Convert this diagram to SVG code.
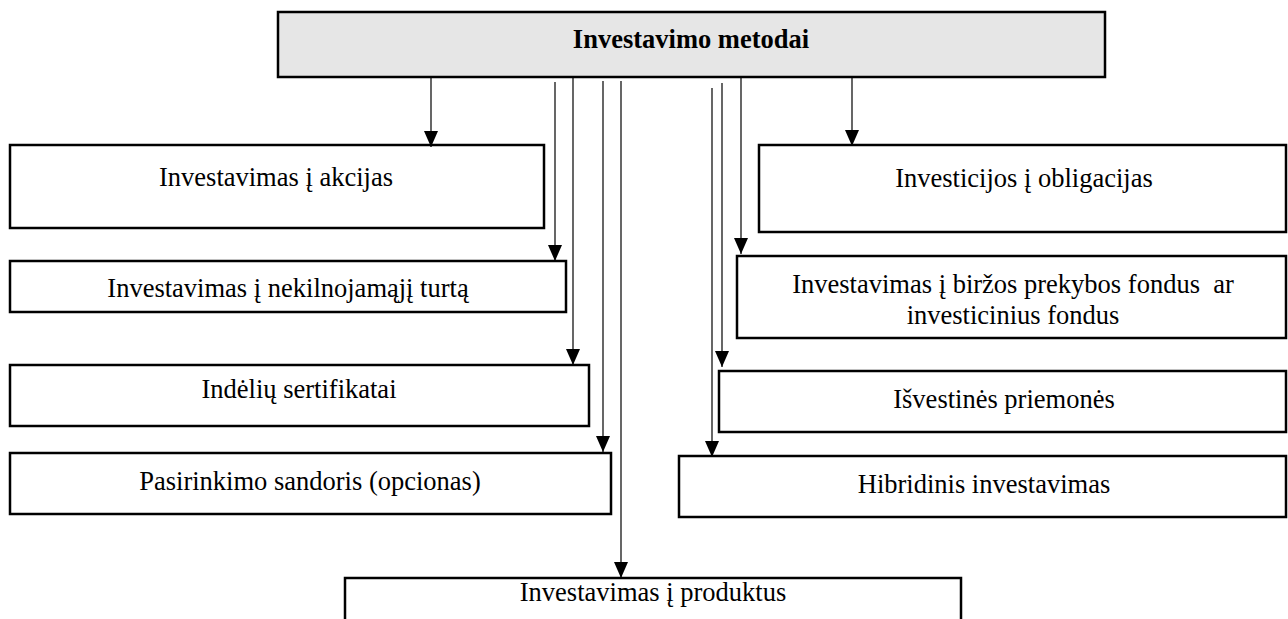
<svg xmlns="http://www.w3.org/2000/svg" width="1288" height="619" viewBox="0 0 1288 619">
  <style>
    .box { fill: #ffffff; stroke: #000000; stroke-width: 2.5; }
    .root { fill: #e6e6e6; stroke: #000000; stroke-width: 2.5; }
    .lbl { font-family: "Liberation Serif", "Times New Roman", "DejaVu Serif", serif; font-size: 26.5px; fill: #000000; text-anchor: middle; }
    .title { font-weight: bold; }
    .wire { stroke: #000000; stroke-width: 1.2; fill: none; marker-end: url(#arrow); }
  </style>
  <defs>
    <!-- filled triangular head, tip at the end of the line -->
    <marker id="arrow" markerUnits="userSpaceOnUse" markerWidth="16" markerHeight="14" viewBox="0 0 16 14" refX="16" refY="7" orient="auto">
      <path d="M0,0 L16,7 L0,14 Z" fill="#000000"/>
    </marker>
  </defs>

  <g id="node-root">
    <rect class="root" x="278" y="12" width="827" height="65"/>
    <text class="lbl title" x="691" y="48">Investavimo metodai</text>
  </g>

  <g id="node-akcijos">
    <rect class="box" x="10" y="145" width="534" height="83"/>
    <text class="lbl" x="276" y="186">Investavimas į akcijas</text>
  </g>

  <g id="node-nekilnojamas">
    <rect class="box" x="10" y="261" width="556" height="51"/>
    <text class="lbl" x="288" y="297">Investavimas į nekilnojamąjį turtą</text>
  </g>

  <g id="node-indeliai">
    <rect class="box" x="10" y="365" width="579" height="61"/>
    <text class="lbl" x="299" y="398">Indėlių sertifikatai</text>
  </g>

  <g id="node-opcionas">
    <rect class="box" x="10" y="453" width="601" height="61"/>
    <text class="lbl" x="310" y="490">Pasirinkimo sandoris (opcionas)</text>
  </g>

  <g id="node-obligacijos">
    <rect class="box" x="759" y="145" width="527" height="87"/>
    <text class="lbl" x="1024" y="187">Investicijos į obligacijas</text>
  </g>

  <g id="node-fondai">
    <rect class="box" x="737" y="256" width="549" height="82"/>
    <text class="lbl" x="1013" y="293" xml:space="preserve">Investavimas į biržos prekybos fondus  ar</text>
    <text class="lbl" x="1013" y="324">investicinius fondus</text>
  </g>

  <g id="node-isvestines">
    <rect class="box" x="719" y="371" width="567" height="61"/>
    <text class="lbl" x="1004" y="408">Išvestinės priemonės</text>
  </g>

  <g id="node-hibridinis">
    <rect class="box" x="679" y="456" width="607" height="61"/>
    <text class="lbl" x="984" y="493">Hibridinis investavimas</text>
  </g>

  <g id="node-produktai">
    <rect class="box" x="345" y="578" width="616" height="50"/>
    <text class="lbl" x="653" y="601">Investavimas į produktus</text>
  </g>

  <g id="connectors">
    <line class="wire" x1="431" y1="78" x2="431" y2="147"/>
    <line class="wire" x1="555" y1="82" x2="555" y2="261"/>
    <line class="wire" x1="573" y1="78" x2="573" y2="365"/>
    <line class="wire" x1="603" y1="81" x2="603" y2="452"/>
    <line class="wire" x1="621" y1="81" x2="621" y2="578"/>
    <line class="wire" x1="712" y1="88" x2="712" y2="457"/>
    <line class="wire" x1="722" y1="83" x2="722" y2="367"/>
    <line class="wire" x1="741" y1="78" x2="741" y2="254"/>
    <line class="wire" x1="852" y1="78" x2="852" y2="146"/>
  </g>
</svg>
